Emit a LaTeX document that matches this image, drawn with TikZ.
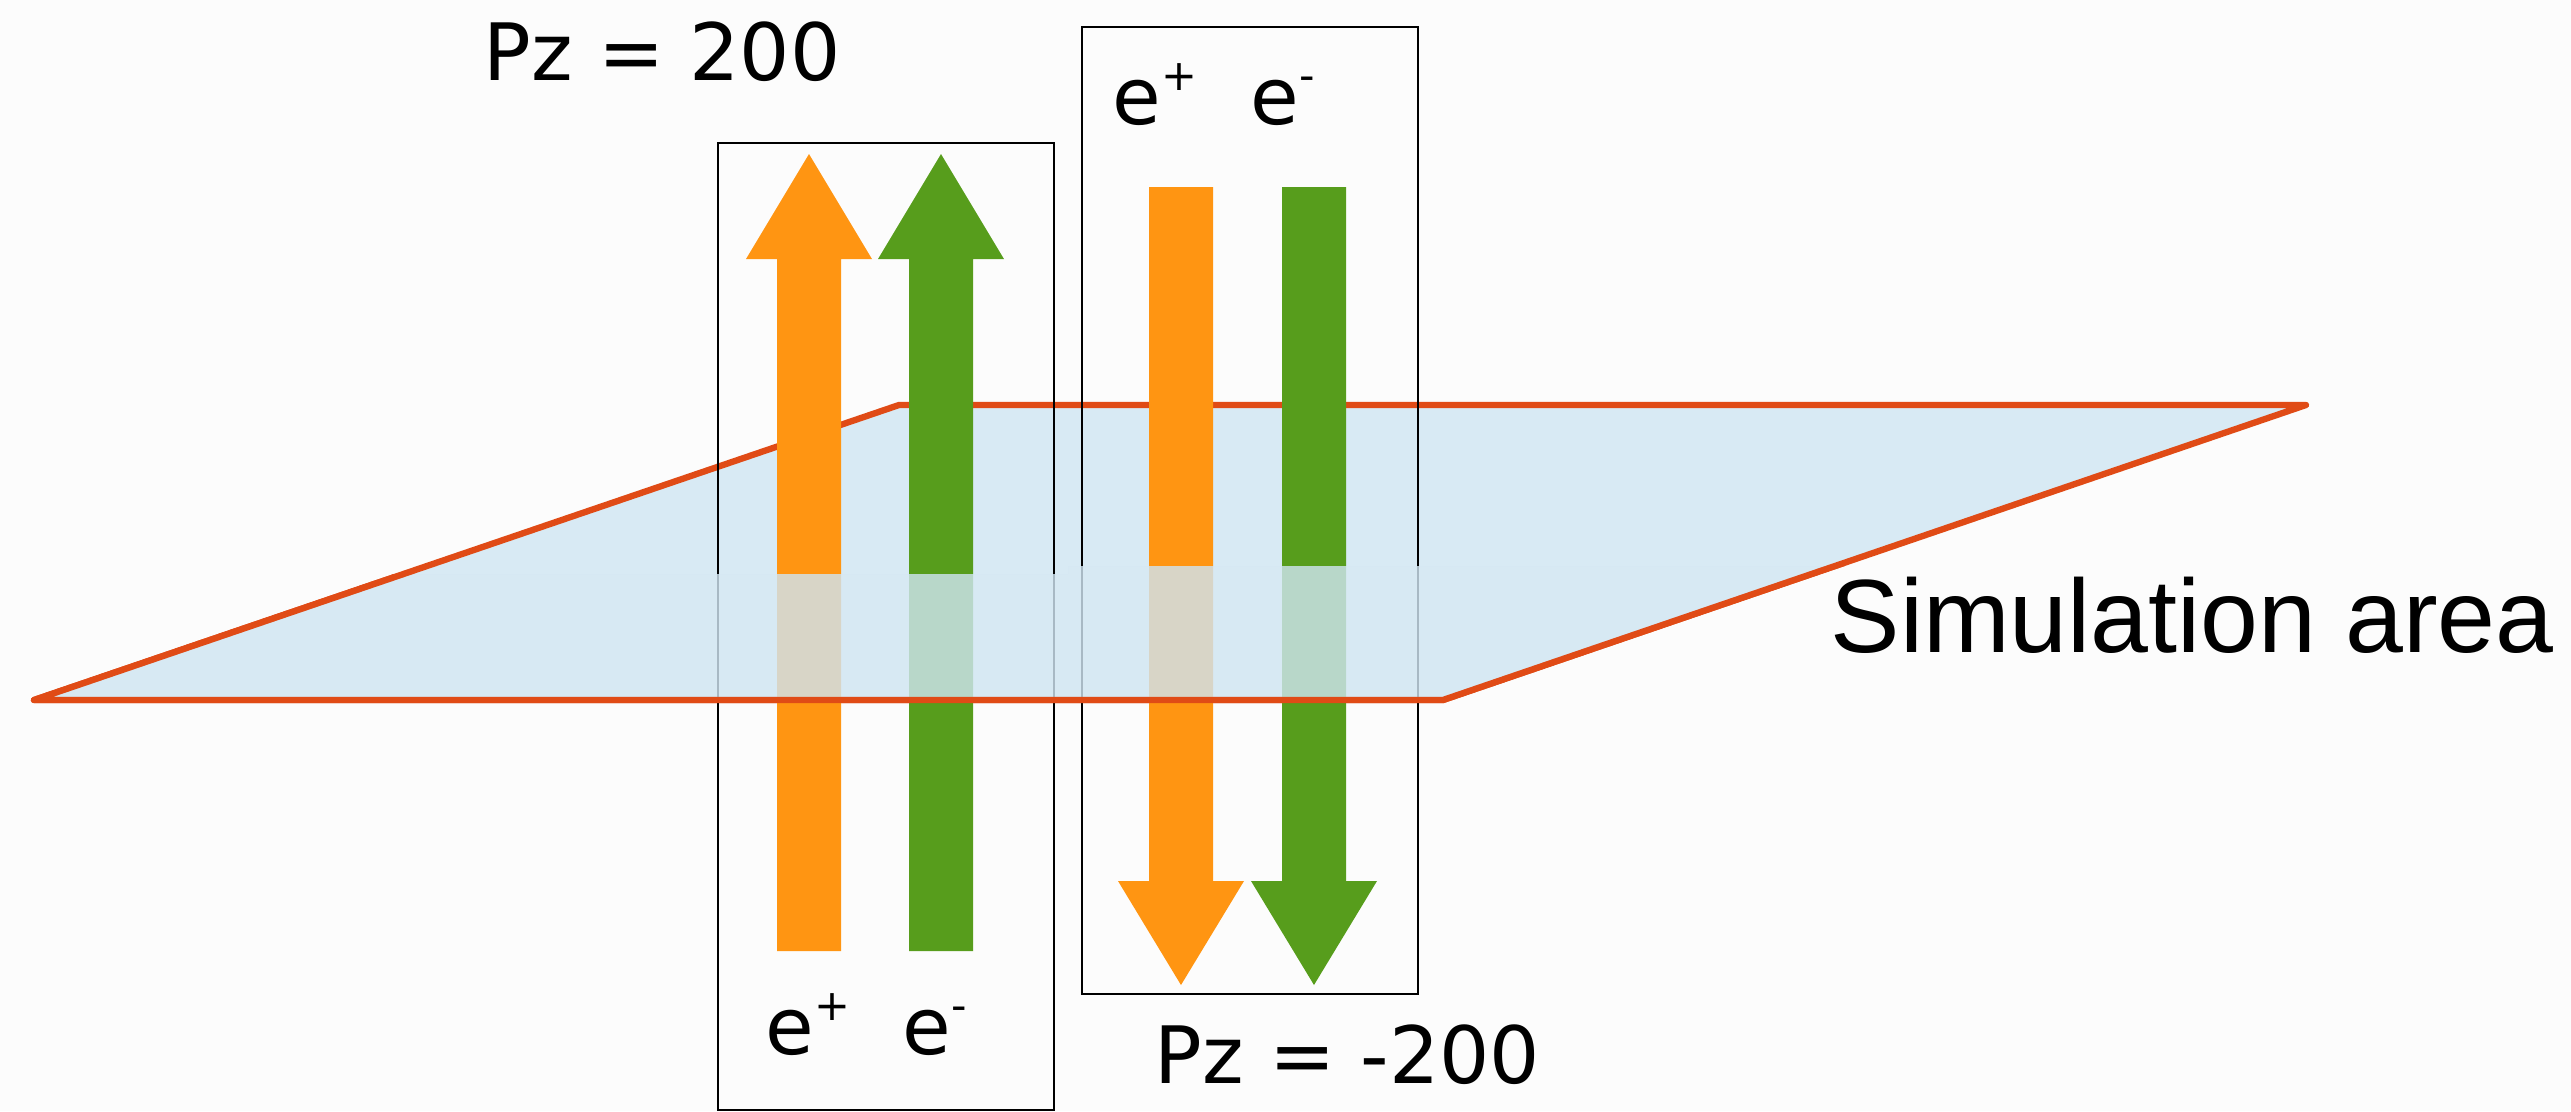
\documentclass[tikz,border=0pt]{standalone}
\usepackage{fontspec}
\setmainfont{DejaVu Sans}
\newfontfamily\areafont{Liberation Sans}
\usetikzlibrary{arrows.meta}

\definecolor{paper}{HTML}{FCFCFC}
\definecolor{posorange}{HTML}{FF9512}
\definecolor{elegreen}{HTML}{579D1C}
\definecolor{planeedge}{HTML}{E04B16}
\definecolor{planeblue}{HTML}{D8EAF4}
\definecolor{planeglass}{HTML}{CFE5F2}
\newcommand{\chg}[1]{\raisebox{0.42em}{\fontsize{12.2}{12.2}\selectfont #1}}

\begin{document}
\begin{tikzpicture}[x=0.01cm,y=-0.01cm,
    lbl/.style={inner sep=0pt,anchor=base west,font=\fontsize{22.5}{27}\selectfont},
    edge/.style={draw=planeedge,line width=1.8pt,line join=round,line cap=round},
    frame/.style={draw=black,line width=0.45pt}]
  \path[use as bounding box,fill=paper] (0,0) rectangle (2571,1111);
  % simulation plane, back part
  \begin{scope}
    \clip (0,0) rectangle (1068,574) (1068,0) rectangle (2571,566);
    \fill[planeblue] (34,700) -- (899,405) -- (2306,405) -- (1443,700) -- cycle;
  \end{scope}
  \draw[edge] (34,700) -- (899,405) -- (2306,405) -- (1443,700) -- cycle;
  % beams going up
  \foreach \xc/\col in {809/posorange,941/elegreen}
    \fill[\col] (\xc-32,951) -- (\xc-32,259) -- (\xc-63,259) -- (\xc,154) -- (\xc+63,259) -- (\xc+32,259) -- (\xc+32,951) -- cycle;
  % beams going down
  \foreach \xc/\col in {1181/posorange,1314/elegreen}
    \fill[\col] (\xc-32,187) -- (\xc-32,881) -- (\xc-63,881) -- (\xc,985) -- (\xc+63,881) -- (\xc+32,881) -- (\xc+32,187) -- cycle;
  \draw[frame] (718,143) rectangle (1054,1110);
  \draw[frame] (1082,27) rectangle (1418,994);
  % simulation plane, front part over the beams
  \begin{scope}
    \clip (0,574) rectangle (1068,720) (1068,566) rectangle (2571,720);
    \fill[planeglass,fill opacity=0.81] (34,700) -- (899,405) -- (2306,405) -- (1443,700) -- cycle;
    \draw[edge] (34,700) -- (899,405) -- (2306,405) -- (1443,700) -- cycle;
  \end{scope}
  \node[lbl] (pzup) at (483,80) {Pz = 200};
  \node[lbl] (pzdown) at (1154,1083) {Pz = -200};
  \node[lbl] (epbot) at (765,1054) {e\chg{+}};
  \node[lbl] (embot) at (902,1054) {e\chg{-}};
  \node[lbl] (eptop) at (1112,124) {e\chg{+}};
  \node[lbl] (emtop) at (1250,124) {e\chg{-}};
  \node[lbl,font=\areafont\fontsize{29.6}{35}\selectfont] (area) at (1830,652) {Simulation area};
\end{tikzpicture}
\end{document}
